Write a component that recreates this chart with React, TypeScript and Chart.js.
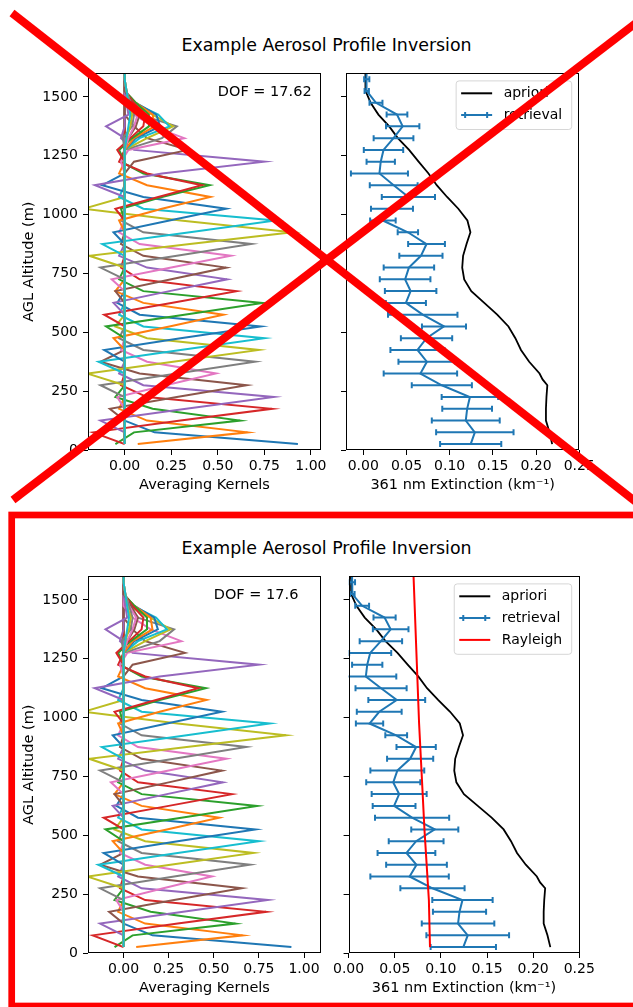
import React, { useEffect, useRef } from 'react';
import { Chart, registerables } from 'chart.js';

Chart.register(...registerables);
Chart.defaults.font.family = "'DejaVu Sans', sans-serif";
Chart.defaults.color = '#000';

// ---------- data ----------
const LEVELS = [25, 75, 125, 175, 225, 275, 325, 375, 425, 475, 525, 575, 625, 675, 725, 775,
  825, 875, 925, 975, 1025, 1075, 1125, 1175, 1225, 1275, 1325, 1375, 1425, 1475, 1525, 1575, 1625];

const RETRIEVAL = [0.1243, 0.1291, 0.1186, 0.1202, 0.1234, 0.0909, 0.0661, 0.0736, 0.0627, 0.0732,
  0.0934, 0.0688, 0.0493, 0.0548, 0.0484, 0.0528, 0.0667, 0.0732, 0.0516, 0.0227, 0.0332, 0.0522,
  0.0352, 0.0187, 0.0202, 0.0234, 0.0350, 0.0456, 0.0390, 0.0147, 0.0040, 0.0040, 0.0035];
const RETRIEVAL_ERR = [0.0354, 0.0448, 0.0393, 0.0288, 0.0327, 0.0348, 0.0425, 0.0329, 0.0313, 0.0297,
  0.0255, 0.0402, 0.0232, 0.0298, 0.0293, 0.0292, 0.0250, 0.0213, 0.0118, 0.0148, 0.0243, 0.0308,
  0.0277, 0.0330, 0.0164, 0.0228, 0.0230, 0.0193, 0.0120, 0.0075, 0.0025, 0.0030, 0.0030];

const APRIORI_ALT = [25, 75, 125, 175, 225, 275, 300, 325, 375, 425, 475, 525, 575, 625, 675, 725,
  775, 825, 875, 925, 975, 1025, 1075, 1125, 1175, 1225, 1275, 1325, 1375, 1425, 1475, 1525, 1625];
const APRIORI = [0.2186, 0.2155, 0.2114, 0.2114, 0.2120, 0.2130, 0.2075, 0.2040, 0.1920, 0.1825,
  0.1760, 0.1680, 0.1550, 0.1400, 0.1250, 0.1168, 0.1145, 0.1155, 0.1195, 0.1240, 0.1205, 0.1100,
  0.0970, 0.0850, 0.0755, 0.0640, 0.0530, 0.0400, 0.0300, 0.0175, 0.0085, 0.0028, 0.0025];

const RAYLEIGH_ALT = [25, 225, 525, 775, 975, 1225, 1600];
const RAYLEIGH = [0.0882, 0.0870, 0.0822, 0.0790, 0.0764, 0.0740, 0.0704];

// averaging kernels: altitude of each kernel's peak and its values around the peak
const K_CENTER = [25, 75, 125, 175, 225, 275, 325, 375, 425, 475, 525, 575, 625, 675, 725, 775, 825,
  875, 925, 975, 1025, 1075, 1125, 1125, 1225, 1275, 1325, 1375, 1375, 1375, 1375, 1375, 1375, 1375,
  1375, 1375, 1425, 1425, 1425, 1425];
const K_PEAK = [0.93, 0.66, 0.62, 0.79, 0.80, 0.655, 0.49, 0.70, 0.72, 0.75, 0.73, 0.53, 0.74, 0.60,
  0.55, 0.545, 0.57, 0.68, 0.90, 0.81, 0.545, 0.46, 0.456, 0.415, 0.75, 0.34, 0.32, 0.28, 0.26, 0.24,
  0.19, 0.16, 0.13, 0.10, -0.10, 0.06, 0.07, 0.05, 0.04, 0.03];
const K_M2 = [0, 0, -0.05, -0.17, -0.13, -0.08, -0.04, -0.13, -0.20, -0.14, -0.11, -0.06, -0.10, -0.11,
  -0.06, -0.05, -0.07, -0.13, -0.19, -0.12, -0.06, -0.03, -0.02, -0.05, -0.16, 0.0, -0.02, 0, 0, 0, 0,
  0, -0.03, -0.04, 0, 0, 0.02, -0.01, 0.01, 0.01];
const K_M1 = [0, 0.07, 0.05, 0.30, 0.33, 0.28, 0.22, 0.28, 0.26, 0.30, 0.30, 0.24, 0.32, 0.25, 0.24,
  0.25, 0.25, 0.28, 0.35, 0.35, 0.24, 0.20, 0.20, 0.18, 0.20, 0.05, 0.02, 0.20, 0.12, 0.08, 0.06, 0.05,
  0.04, 0.03, 0.0, 0.02, 0.05, 0.04, 0.03, 0.02];
const K_P1 = [0.16, 0.12, 0.15, 0.12, 0.10, 0.08, 0.12, 0.10, 0.12, 0.10, 0.08, 0.10, 0.10, 0.08, 0.12,
  0.10, 0.08, 0.10, 0.30, 0.10, 0.10, 0.12, 0.10, 0.12, 0.05, 0.12, 0.15, 0.08, 0.15, 0.18, 0.17, 0.15,
  0.13, 0.11, 0.02, 0.08, 0.03, 0.03, 0.02, 0.02];
const K_P2 = [0, -0.03, -0.05, -0.02, -0.03, -0.13, -0.02, -0.03, -0.05, -0.03, -0.04, -0.05, -0.03,
  -0.02, -0.03, -0.02, -0.03, -0.02, -0.22, -0.03, -0.12, -0.03, -0.02, -0.03, -0.02, 0.05, 0.05, 0.02,
  0.03, 0.05, 0.06, 0.06, 0.06, 0.05, 0.01, 0.04, 0.01, 0.01, 0.01, 0.01];

const Y_TICKS = [0, 250, 500, 750, 1000, 1250, 1500];
const AK_TICKS = [0, 0.25, 0.5, 0.75, 1.0];
const EXT_TICKS = [0, 0.05, 0.1, 0.15, 0.2, 0.25];

const TITLE = 'Example Aerosol Profile Inversion';
const TAB10 = ['#1f77b4', '#ff7f0e', '#2ca02c', '#d62728', '#9467bd', '#8c564b', '#e377c2', '#7f7f7f', '#bcbd22', '#17becf'];

// ---------- helpers ----------
function kernelDatasets() {
  return K_CENTER.map((c, k) => {
    const ci = LEVELS.indexOf(c);
    const pts = LEVELS.map((alt, j) => {
      const d = j - ci;
      const v = d === 0 ? K_PEAK[k] : d === -2 ? K_M2[k] : d === -1 ? K_M1[k] : d === 1 ? K_P1[k] : d === 2 ? K_P2[k] : 0;
      return { x: v, y: alt };
    });
    return {
      label: 'AK ' + k, data: pts, borderColor: TAB10[k % 10], backgroundColor: TAB10[k % 10],
      borderWidth: 2, pointRadius: 0, showLine: true, fill: false, order: 100 - k,
    };
  });
}

const gridOpts = { drawOnChartArea: false, drawTicks: true, tickLength: 5, color: '#000', lineWidth: 1 };

function xScale(min: number, max: number, ticks: number[], title: string) {
  return {
    type: 'linear', position: 'bottom', min, max,
    afterBuildTicks: (s: any) => { s.ticks = ticks.map((v) => ({ value: v })); },
    afterFit: (s: any) => { s.height = 50; },
    ticks: { autoSkip: false, maxRotation: 0, minRotation: 0, padding: 3, color: '#000', font: { size: 14 },
      callback: (v: any) => Number(v).toFixed(2) },
    grid: gridOpts,
    border: { display: false },
    title: { display: true, text: title, color: '#000', font: { size: 14.5 }, padding: { top: 0, bottom: 6 } },
  };
}

function yScale(showLabels: boolean) {
  return {
    type: 'linear', position: 'left', min: 0, max: 1600,
    afterBuildTicks: (s: any) => { s.ticks = Y_TICKS.map((v) => ({ value: v })); },
    afterFit: (s: any) => { s.width = showLabels ? 88 : 16; },
    ticks: { autoSkip: false, padding: 5, color: '#000', font: { size: 14 },
      callback: (v: any) => (showLabels ? String(v) : '') },
    grid: gridOpts,
    border: { display: false },
    title: { display: showLabels, text: 'AGL Altitude (m)', color: '#000', font: { size: 14.5 }, padding: { top: 21, bottom: 0 } },
  };
}

const framePlugin = {
  id: 'frame',
  afterDatasetsDraw(chart: any) {
    const { ctx, chartArea: a } = chart;
    ctx.save();
    ctx.strokeStyle = '#000';
    ctx.lineWidth = 1;
    ctx.strokeRect(Math.round(a.left) + 0.5, Math.round(a.top) + 0.5, Math.round(a.right - a.left) - 1, Math.round(a.bottom - a.top) - 1);
    ctx.restore();
  },
};

function dofPlugin(text: string) {
  return {
    id: 'dof',
    afterDatasetsDraw(chart: any) {
      const { ctx, scales } = chart;
      ctx.save();
      ctx.font = "14.5px 'DejaVu Sans'";
      ctx.fillStyle = '#000';
      ctx.textAlign = 'left';
      ctx.textBaseline = 'middle';
      ctx.fillText(text, scales.x.getPixelForValue(0.5), scales.y.getPixelForValue(1521));
      ctx.restore();
    },
  };
}

const errorBarPlugin = {
  id: 'errbars',
  afterDatasetDraw(chart: any, args: any) {
    const ds = chart.data.datasets[args.index];
    if (!ds.errors) return;
    const { ctx, chartArea: a, scales } = chart;
    ctx.save();
    ctx.beginPath();
    ctx.rect(a.left, a.top, a.right - a.left, a.bottom - a.top);
    ctx.clip();
    ctx.strokeStyle = ds.borderColor;
    ctx.lineWidth = 2;
    ds.data.forEach((p: any, i: number) => {
      const e = ds.errors[i];
      const y = scales.y.getPixelForValue(p.y);
      const x0 = scales.x.getPixelForValue(p.x - e);
      const x1 = scales.x.getPixelForValue(p.x + e);
      ctx.beginPath();
      ctx.moveTo(x0, y); ctx.lineTo(x1, y);
      ctx.moveTo(x0, y - 3); ctx.lineTo(x0, y + 3);
      ctx.moveTo(x1, y - 3); ctx.lineTo(x1, y + 3);
      ctx.stroke();
    });
    ctx.restore();
  },
};

const legendPlugin = {
  id: 'mplLegend',
  afterDatasetsDraw(chart: any) {
    const { ctx, chartArea: a } = chart;
    const items = chart.data.datasets.slice().sort((p: any, q: any) => q.order - p.order);
    ctx.save();
    ctx.font = "14px 'DejaVu Sans'";
    const tw = Math.max(...items.map((d: any) => ctx.measureText(d.label).width));
    const rowH = 21.8;
    const w = 48 + tw + 9;
    const h = items.length * rowH + 5;
    const x = a.right - 7.6 - w;
    const y = a.top + 7.5;
    const r = 3;
    ctx.beginPath();
    ctx.moveTo(x + r, y);
    ctx.arcTo(x + w, y, x + w, y + h, r);
    ctx.arcTo(x + w, y + h, x, y + h, r);
    ctx.arcTo(x, y + h, x, y, r);
    ctx.arcTo(x, y, x + w, y, r);
    ctx.closePath();
    ctx.fillStyle = 'rgba(255,255,255,0.8)';
    ctx.fill();
    ctx.strokeStyle = 'rgba(204,204,204,0.8)';
    ctx.lineWidth = 1;
    ctx.stroke();
    items.forEach((d: any, i: number) => {
      const cy = y + 12.4 + i * rowH;
      const lx0 = x + 5, lx1 = x + 36;
      ctx.strokeStyle = d.borderColor;
      ctx.lineWidth = 2;
      ctx.beginPath();
      ctx.moveTo(lx0, cy); ctx.lineTo(lx1, cy);
      if (d.errors) {
        const c0 = lx0 + 4, c1 = lx1 - 5;
        ctx.moveTo(c0, cy - 3); ctx.lineTo(c0, cy + 3);
        ctx.moveTo(c1, cy - 3); ctx.lineTo(c1, cy + 3);
      }
      ctx.stroke();
      ctx.fillStyle = '#000';
      ctx.textAlign = 'left';
      ctx.textBaseline = 'middle';
      ctx.fillText(d.label, x + 47.5, cy);
    });
    ctx.restore();
  },
};

function kernelConfig(xmax: number, dof: string): any {
  return {
    type: 'scatter',
    data: { datasets: kernelDatasets() },
    options: {
      animation: false, responsive: false, devicePixelRatio: 1, events: [],
      layout: { padding: { top: 12, right: 9, left: 0, bottom: 0 } },
      plugins: { legend: { display: false }, tooltip: { enabled: false } },
      scales: { x: xScale(-0.197, xmax, AK_TICKS, 'Averaging Kernels'), y: yScale(true) },
    },
    plugins: [framePlugin, dofPlugin(dof)],
  };
}

function profileConfig(xmin: number, withRayleigh: boolean): any {
  const datasets: any[] = [
    { label: 'apriori', data: APRIORI.map((v, i) => ({ x: v, y: APRIORI_ALT[i] })), borderColor: '#000',
      backgroundColor: '#000', borderWidth: 1.8, pointRadius: 0, showLine: true, order: 3 },
    { label: 'retrieval', data: RETRIEVAL.map((v, i) => ({ x: v, y: LEVELS[i] })), errors: RETRIEVAL_ERR,
      borderColor: '#1f77b4', backgroundColor: '#1f77b4', borderWidth: 2, pointRadius: 0, showLine: true, order: 2 },
  ];
  if (withRayleigh) {
    datasets.push({ label: 'Rayleigh', data: RAYLEIGH.map((v, i) => ({ x: v, y: RAYLEIGH_ALT[i] })), borderColor: '#ff0000',
      backgroundColor: '#ff0000', borderWidth: 2, pointRadius: 0, showLine: true, order: 1 });
  }
  return {
    type: 'scatter',
    data: { datasets },
    options: {
      animation: false, responsive: false, devicePixelRatio: 1, events: [],
      layout: { padding: { top: 12, right: 53.7, left: 0, bottom: 0 } },
      plugins: { legend: { display: false }, tooltip: { enabled: false } },
      scales: { x: xScale(xmin, 0.25, EXT_TICKS, '361 nm Extinction (km\u207B\u00B9)'), y: yScale(false) },
    },
    plugins: [errorBarPlugin, framePlugin, legendPlugin],
  };
}

function ChartCanvas({ left, top, width, height, build }: any) {
  const ref = useRef<HTMLCanvasElement>(null);
  useEffect(() => {
    const chart = new Chart(ref.current as HTMLCanvasElement, build());
    return () => chart.destroy();
  }, []);
  return (
    <canvas ref={ref} width={width} height={height}
      style={{ position: 'absolute', left, top, width, height }} />
  );
}

function Panel({ top, dof, akMax, extMin, rayleigh }: any) {
  return (
    <>
      <div style={{ position: 'absolute', left: 0, top: top - 25, width: 653, textAlign: 'center',
        fontFamily: "'DejaVu Sans', sans-serif", fontSize: 17.4, lineHeight: '20px', color: '#000' }}>{TITLE}</div>
      <ChartCanvas left={0} top={top} width={330} height={440} build={() => kernelConfig(akMax, dof)} />
      <ChartCanvas left={330} top={top} width={303} height={440} build={() => profileConfig(extMin, rayleigh)} />
    </>
  );
}

export default function App() {
  return (
    <div style={{ position: 'absolute', left: 0, top: 0, width: 633, height: 1007, overflow: 'hidden', background: '#fff' }}>
      <Panel top={60} dof="DOF = 17.62" akMax={1.054} extMin={-0.02} rayleigh={false} />
      <Panel top={563} dof="DOF = 17.6" akMax={1.094} extMin={0} rayleigh={true} />
      <svg width={633} height={1007} style={{ position: 'absolute', left: 0, top: 0, pointerEvents: 'none' }}>
        <line x1={12} y1={13} x2={645} y2={509} stroke="#ff0000" strokeWidth={8} />
        <line x1={13} y1={500} x2={645} y2={16} stroke="#ff0000" strokeWidth={8} />
        <rect x={11.7} y={515} width={640} height={491} fill="none" stroke="#ff0000" strokeWidth={6.7} />
      </svg>
    </div>
  );
}
